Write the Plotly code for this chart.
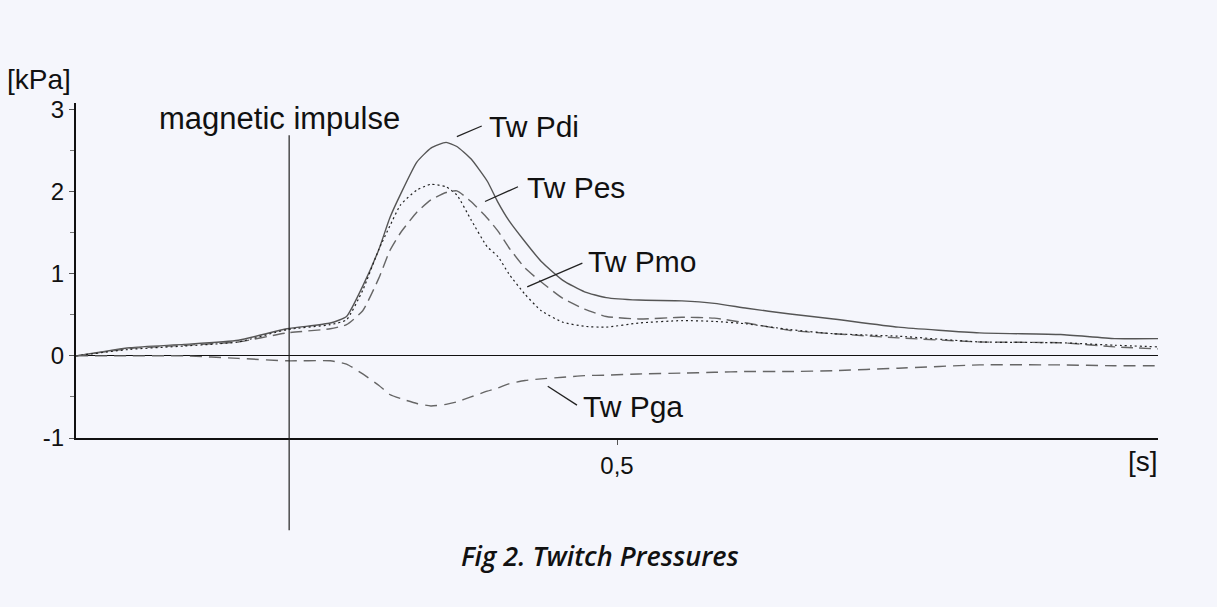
import plotly.graph_objects as go

# time [s]
t = [0, 0.05, 0.10, 0.15, 0.195, 0.235, 0.25, 0.265, 0.28, 0.29, 0.30, 0.315, 0.328, 0.342,
     0.352, 0.365, 0.38, 0.39, 0.40, 0.415, 0.43, 0.45, 0.47, 0.49, 0.52, 0.56, 0.59, 0.62,
     0.66, 0.70, 0.76, 0.835, 0.91, 0.96, 1.0]

tw_pdi = [0, 0.10, 0.14, 0.19, 0.33, 0.40, 0.48, 0.85, 1.30, 1.68, 1.97, 2.36, 2.53, 2.60,
          2.55, 2.40, 2.13, 1.87, 1.65, 1.39, 1.15, 0.92, 0.78, 0.71, 0.68, 0.67, 0.64, 0.58,
          0.51, 0.45, 0.35, 0.28, 0.26, 0.21, 0.21]

tw_pes = [0, 0.09, 0.13, 0.17, 0.28, 0.33, 0.38, 0.55, 0.95, 1.28, 1.50, 1.75, 1.90, 1.99,
          2.01, 1.88, 1.68, 1.52, 1.32, 1.07, 0.90, 0.70, 0.57, 0.48, 0.45, 0.47, 0.46, 0.40,
          0.31, 0.27, 0.22, 0.17, 0.16, 0.11, 0.085]

tw_pmo = [0, 0.08, 0.12, 0.17, 0.32, 0.38, 0.44, 0.80, 1.30, 1.58, 1.84, 2.02, 2.09, 2.06,
          1.96, 1.66, 1.33, 1.21, 1.00, 0.75, 0.55, 0.41, 0.36, 0.35, 0.40, 0.43, 0.42, 0.39,
          0.32, 0.27, 0.24, 0.17, 0.16, 0.13, 0.11]

tw_pga = [0, 0, 0, -0.03, -0.06, -0.06, -0.10, -0.22, -0.36, -0.47, -0.52, -0.58, -0.61, -0.59,
          -0.56, -0.50, -0.43, -0.39, -0.34, -0.30, -0.28, -0.26, -0.24, -0.235, -0.22, -0.21,
          -0.20, -0.19, -0.19, -0.18, -0.15, -0.11, -0.11, -0.12, -0.12]

impulse_t = 0.197

y_ticks = [-1, 0, 1, 2, 3]
y_tick_text = ["-1", "0", "1", "2", "3"]
x_ticks = [0.5]
x_tick_text = ["0,5"]

series = [
    ("Tw Pdi", tw_pdi, dict(color="#555555", width=1.4, dash="solid")),
    ("Tw Pes", tw_pes, dict(color="#666666", width=1.4, dash="12px,6px")),
    ("Tw Pmo", tw_pmo, dict(color="#222222", width=1.2, dash="2px,3px")),
    ("Tw Pga", tw_pga, dict(color="#666666", width=1.4, dash="12px,7px")),
]

# label text position and leader line (data coords)
labels = {
    "Tw Pdi": dict(tx=0.380, ty=2.79, l=(0.352, 2.67, 0.375, 2.80)),
    "Tw Pes": dict(tx=0.415, ty=2.05, l=(0.378, 1.88, 0.4085, 2.06)),
    "Tw Pmo": dict(tx=0.471, ty=1.15, l=(0.417, 0.84, 0.468, 1.13)),
    "Tw Pga": dict(tx=0.4667, ty=-0.62, l=(0.436, -0.37, 0.463, -0.60)),
}

bg = "#f5f6fc"
font_main = "Liberation Sans, Arial, sans-serif"

fig = go.Figure()
for name, vals, line in series:
    fig.add_trace(go.Scatter(x=t, y=vals, mode="lines", name=name,
                             line=dict(line, shape="spline", smoothing=0.5),
                             showlegend=False, hoverinfo="skip"))

shapes = []
annotations = []
for name, spec in labels.items():
    x0, y0, x1, y1 = spec["l"]
    shapes.append(dict(type="line", xref="x", yref="y", x0=x0, y0=y0, x1=x1, y1=y1,
                       line=dict(color="#222222", width=1.3)))
    annotations.append(dict(text=name, xref="x", yref="y", x=spec["tx"], y=spec["ty"],
                            xanchor="left", yanchor="middle", showarrow=False,
                            font=dict(family=font_main, size=30, color="#111111")))

# magnetic impulse vertical line
shapes.append(dict(type="line", xref="x", yref="paper", x0=impulse_t, x1=impulse_t,
                   y0=-0.275, y1=0.904, line=dict(color="#222222", width=1.2)))
annotations.append(dict(text="magnetic impulse", xref="paper", yref="paper", x=0.0749, y=0.955,
                        xanchor="left", yanchor="middle", showarrow=False,
                        font=dict(family=font_main, size=31, color="#111111")))
annotations.append(dict(text="[kPa]", xref="paper", yref="paper", x=-0.066, y=1.069,
                        xanchor="left", yanchor="middle", showarrow=False,
                        font=dict(family=font_main, size=28, color="#111111")))
annotations.append(dict(text="[s]", xref="paper", yref="paper", x=1.0018, y=-0.0687,
                        xanchor="right", yanchor="middle", showarrow=False,
                        font=dict(family=font_main, size=28, color="#111111")))
annotations.append(dict(text="Fig 2. Twitch Pressures", xref="paper", yref="paper",
                        x=(600 - 76) / 1082, y=(438 - 555) / 335,
                        xanchor="center", yanchor="middle", showarrow=False,
                        font=dict(family="Open Sans, sans-serif", size=27, color="#111111",
                                  weight=600, style="italic")))

fig.update_layout(
    width=1217, height=607,
    margin=dict(l=76, r=59, t=103, b=169),
    paper_bgcolor=bg, plot_bgcolor=bg,
    shapes=shapes, annotations=annotations,
    showlegend=False,
)
fig.update_xaxes(range=[0, 1.0], showgrid=False, zeroline=False,
                 showline=True, linecolor="#111111", linewidth=2,
                 tickvals=x_ticks, ticktext=x_tick_text, ticks="outside", ticklen=5,
                 tickcolor="#555555", tickfont=dict(family=font_main, size=24, color="#111111"))
fig.update_yaxes(range=[-1, 3.08], showgrid=False, zeroline=True, zerolinecolor="#111111",
                 zerolinewidth=1.2, showline=True, linecolor="#111111", linewidth=2,
                 tickvals=y_ticks, ticktext=y_tick_text, ticks="outside", ticklen=5,
                 tickcolor="#555555",
                 minor=dict(tickvals=[-0.5, 0.5, 1.5, 2.5], ticks="outside", ticklen=4,
                            tickcolor="#777777"),
                 tickfont=dict(family=font_main, size=24, color="#111111"))

fig.write_html("out.html", config={"displayModeBar": False},
               post_script="document.body.style.margin='0';"
                           "document.body.style.background='" + bg + "';")
